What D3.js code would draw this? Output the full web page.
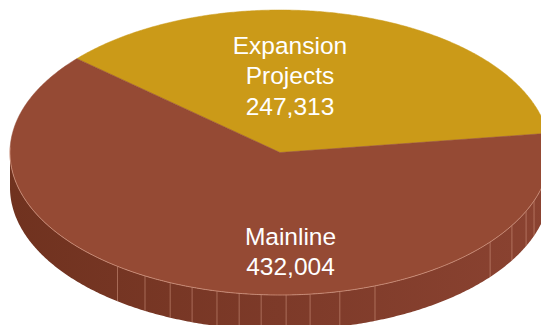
<!DOCTYPE html>
<html>
<head>
<meta charset="utf-8">
<script src="https://cdn.jsdelivr.net/npm/d3@7/dist/d3.min.js"></script>
<style>
  html, body { margin: 0; padding: 0; background: #ffffff; }
  svg { display: block; }
</style>
</head>
<body>
<svg id="chart" width="541" height="325"></svg>
<script>
// Budget split
const categories = ["Expansion Projects", "Mainline"];
const values = [247313, 432004];
const labelLines = [["Expansion", "Projects"], ["Mainline"]];

// Appearance
const topColors = ["#cb9a18", "#954a34"];
const sideDark = "#70321f";
const sideMid = "#7d3a29";
const sideLight = "#8b4331";

const W = 541, H = 325;
const cx = 280, cy = 152.5, rx = 270, ry = 142.5, depth = 35;
const deg = Math.PI / 180;
const startAngle = -48.8 * deg;

// Angles (clockwise from 12 o'clock) of the facet seams on the pie wall
const seamAngles = [217, 210, 204, 199, 193.5, 188.7, 184, 178.7, 173.6, 167.2, 159.4, 128.9, 120.8, 114.3, 109.8];

const svg = d3.select("#chart");
const defs = svg.append("defs");
const grad = defs.append("linearGradient")
  .attr("id", "wall")
  .attr("gradientUnits", "userSpaceOnUse")
  .attr("x1", cx - rx).attr("y1", 0)
  .attr("x2", cx + rx).attr("y2", 0);
grad.append("stop").attr("offset", 0).attr("stop-color", sideDark);
grad.append("stop").attr("offset", 0.5).attr("stop-color", sideMid);
grad.append("stop").attr("offset", 1).attr("stop-color", sideLight);

// Project a pie angle onto the tilted disc
function proj(a, dy = 0) {
  return [cx + rx * Math.sin(a), cy - ry * Math.cos(a) + dy];
}
function arcPoints(a0, a1, dy = 0) {
  const n = Math.max(2, Math.ceil(Math.abs(a1 - a0) / (0.5 * deg)));
  return d3.range(n + 1).map(i => proj(a0 + (a1 - a0) * i / n, dy));
}
const line = d3.line();

const pie = d3.pie().sort(null).value(d => d)
  .startAngle(startAngle).endAngle(startAngle + 2 * Math.PI);
const arcs = pie(values);

// Front wall: only the part facing the viewer (angles between 90° and 270°)
const wall = svg.append("g");
arcs.forEach((d, i) => {
  for (const shift of [0, 2 * Math.PI, -2 * Math.PI]) {
    const a0 = Math.max(d.startAngle + shift, Math.PI / 2);
    const a1 = Math.min(d.endAngle + shift, 3 * Math.PI / 2);
    if (a1 <= a0) continue;
    const pts = arcPoints(a0, a1).concat(arcPoints(a1, a0, depth));
    wall.append("path")
      .attr("d", line(pts) + "Z")
      .attr("fill", "url(#wall)");
  }
});

// Facet seams on the wall
wall.selectAll("line.seam")
  .data(seamAngles)
  .join("line")
  .attr("class", "seam")
  .attr("x1", a => proj(a * deg)[0])
  .attr("y1", a => proj(a * deg)[1])
  .attr("x2", a => proj(a * deg, depth)[0])
  .attr("y2", a => proj(a * deg, depth)[1])
  .attr("stroke", "#d9a08a")
  .attr("stroke-opacity", 0.5)
  .attr("stroke-width", 1);

// Top faces of the slices
svg.append("g")
  .selectAll("path")
  .data(arcs)
  .join("path")
  .attr("d", d => line([[cx, cy]].concat(arcPoints(d.startAngle, d.endAngle))) + "Z")
  .attr("fill", (d, i) => topColors[i])
  .attr("stroke", (d, i) => topColors[i])
  .attr("stroke-width", 0.5);

// Light rim along the front edge
svg.append("path")
  .attr("d", line(arcPoints(Math.PI / 2 - 4 * deg, 3 * Math.PI / 2 + 2 * deg)))
  .attr("fill", "none")
  .attr("stroke", "#d9a08a")
  .attr("stroke-opacity", 0.75)
  .attr("stroke-width", 0.9);

// Labels: name lines followed by the value
const fmt = d3.format(",");
const labelPos = [{ x: 290, y: 54 }, { x: 290.5, y: 245 }];
const lineGap = 30.3;
const labels = svg.append("g")
  .attr("font-family", "'Liberation Sans', Arial, sans-serif")
  .attr("font-size", "24.5px")
  .attr("fill", "#ffffff")
  .attr("text-anchor", "middle");
categories.forEach((c, i) => {
  const t = labels.append("text")
    .attr("x", labelPos[i].x)
    .attr("y", labelPos[i].y);
  labelLines[i].concat([fmt(values[i])]).forEach((s, k) => {
    t.append("tspan")
      .attr("x", labelPos[i].x)
      .attr("dy", k === 0 ? 0 : lineGap)
      .text(s);
  });
});
</script>
</body>
</html>
